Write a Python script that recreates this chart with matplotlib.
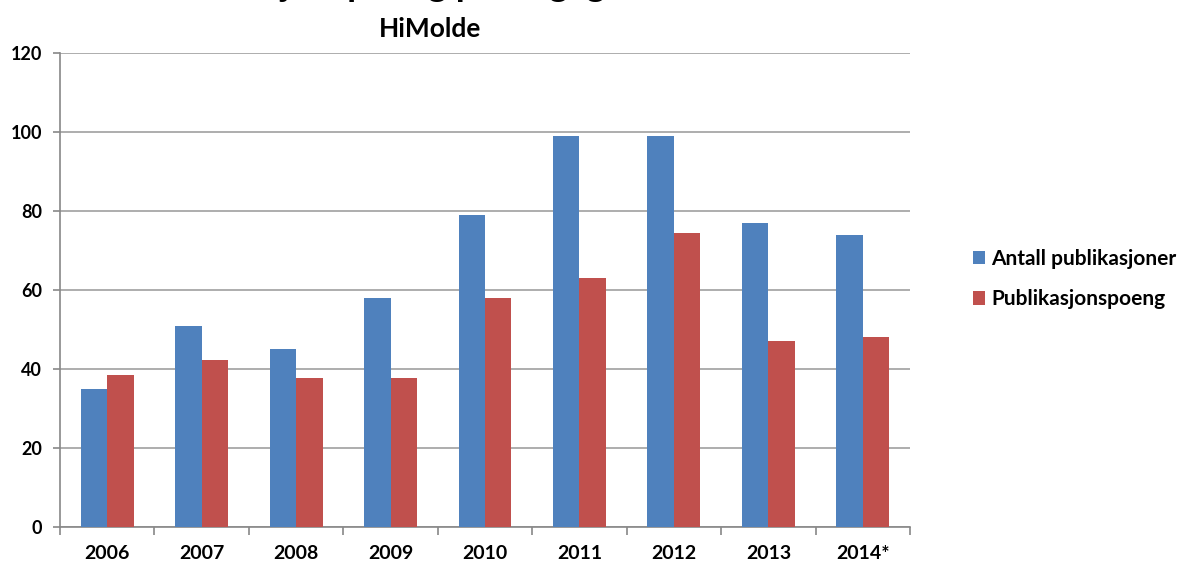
import matplotlib
matplotlib.use("Agg")
import matplotlib.pyplot as plt
import numpy as np

years = ["2006", "2007", "2008", "2009", "2010", "2011", "2012", "2013", "2014*"]
antall = [35, 51, 45, 58, 79, 99, 99, 77, 74]
poeng = [38.5, 42.3, 37.8, 37.8, 58, 63, 74.5, 47.2, 48.2]
series_names = ["Antall publikasjoner", "Publikasjonspoeng"]
yticks = [0, 20, 40, 60, 80, 100, 120]

plt.rcParams['font.family'] = ['Lato', 'DejaVu Sans']

fig = plt.figure(figsize=(11.82, 5.63), dpi=100)
ax = fig.add_axes([60/1182, 1-527/563, 850/1182, 474/563])

x = np.arange(len(years))
w = 0.28
ax.bar(x - w/2, antall, w, color="#4F81BD", label=series_names[0], zorder=3)
ax.bar(x + w/2, poeng, w, color="#C0504D", label=series_names[1], zorder=3)

ax.set_xlim(-0.5, len(years) - 0.5)
ax.set_ylim(0, 120)
ax.set_yticks(yticks)
ax.set_yticklabels([str(t) for t in yticks], fontsize=13, fontweight='bold')
ax.yaxis.grid(True, color="#A0A0A0", linewidth=1.2, zorder=0)
ax.set_axisbelow(True)

ax.set_xticks(x)
ax.set_xticklabels(years, fontsize=14, fontweight='bold')
ax.tick_params(axis='x', length=0, pad=13)
ax.set_xticks(np.arange(len(years) + 1) - 0.5, minor=True)
ax.tick_params(axis='x', which='minor', length=6, color="#888888", width=1.2, direction='out')
ax.tick_params(axis='y', length=5, color="#888888", width=1.2, pad=8)

for s in ['top', 'right']:
    ax.spines[s].set_visible(False)
for s in ['left', 'bottom']:
    ax.spines[s].set_color("#888888")
    ax.spines[s].set_linewidth(1.2)

ax.legend(loc='center left', bbox_to_anchor=(958/1182, 1-279/563), bbox_transform=fig.transFigure,
          frameon=False, prop={'size': 15, 'weight': 'bold'}, handlelength=0.6, handleheight=0.6,
          labelspacing=1.0, handletextpad=0.3, borderpad=0.2)

fig.text(430/1182, 1-29/563, "HiMolde", ha='center', va='center', fontsize=19, fontweight='bold')
fig.text(430/1182, 1+4.2/563, "Publikasjonspoeng per faglig ansatt", ha='center', va='baseline',
         fontsize=26, fontweight='bold')

fig.savefig("out.png", dpi=100)
